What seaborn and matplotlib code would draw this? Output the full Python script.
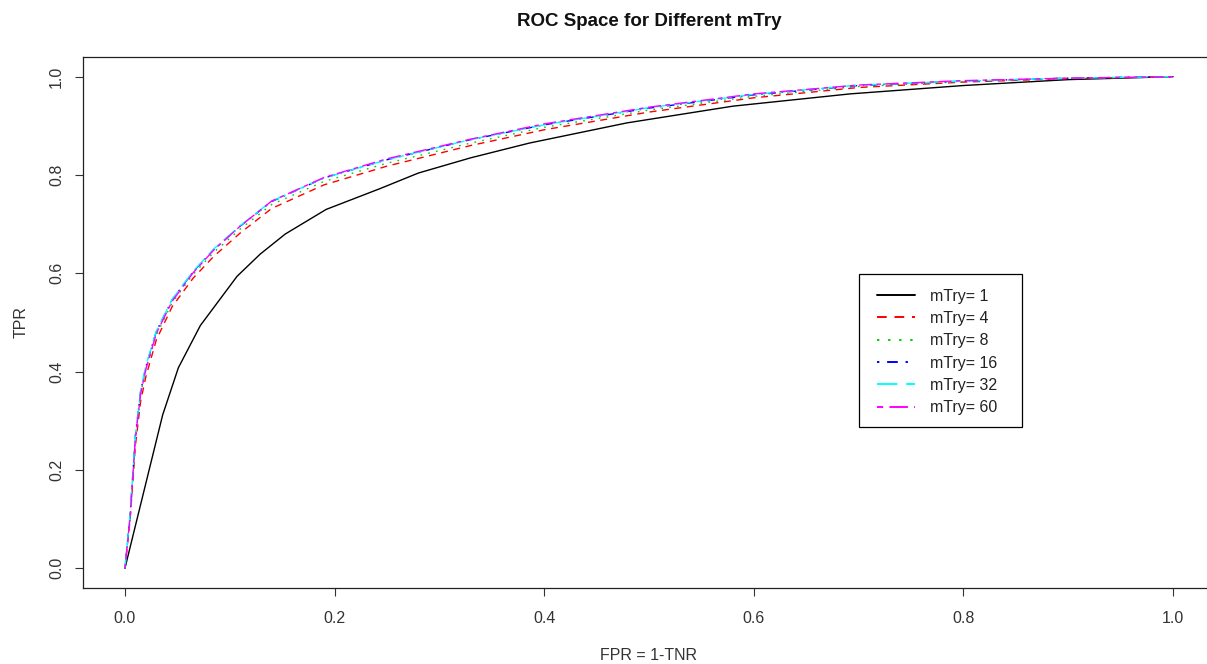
import numpy as np
import pandas as pd
import matplotlib
matplotlib.use("Agg")
import matplotlib.pyplot as plt
from matplotlib.patches import Rectangle
import seaborn as sns

# ---- data ----
fpr_m1 = [0, 0.036, 0.051, 0.072, 0.107, 0.129, 0.153, 0.192, 0.243, 0.28, 0.33,
          0.386, 0.479, 0.58, 0.692, 0.8, 0.9, 1.0]
tpr_m1 = [0, 0.312, 0.408, 0.494, 0.594, 0.639, 0.680, 0.730, 0.772, 0.804, 0.835,
          0.865, 0.906, 0.94, 0.965, 0.982, 0.994, 1.0]

fpr_grid = [0, 0.005, 0.01, 0.015, 0.02, 0.03, 0.045, 0.065, 0.085, 0.11, 0.14,
            0.19, 0.25, 0.33, 0.4, 0.5, 0.6, 0.7, 0.8, 0.9, 1.0]
tpr_m4 = [0, 0.10, 0.25, 0.34, 0.39, 0.465, 0.532, 0.59, 0.635, 0.682, 0.732,
          0.78, 0.818, 0.86, 0.892, 0.928, 0.957, 0.978, 0.989, 0.996, 1.0]
tpr_m8 = [0, 0.105, 0.26, 0.355, 0.405, 0.475, 0.540, 0.598, 0.643, 0.690, 0.740,
          0.787, 0.824, 0.865, 0.897, 0.932, 0.960, 0.980, 0.990, 0.997, 1.0]
tpr_m16 = [0, 0.11, 0.27, 0.36, 0.41, 0.482, 0.546, 0.603, 0.649, 0.696, 0.746,
           0.794, 0.831, 0.872, 0.902, 0.936, 0.963, 0.982, 0.991, 0.997, 1.0]
tpr_m32 = [0, 0.112, 0.272, 0.362, 0.412, 0.483, 0.547, 0.604, 0.650, 0.697, 0.747,
           0.794, 0.831, 0.872, 0.902, 0.937, 0.964, 0.983, 0.991, 0.997, 1.0]
tpr_m60 = [0, 0.105, 0.265, 0.355, 0.405, 0.478, 0.543, 0.601, 0.648, 0.696, 0.747,
           0.795, 0.833, 0.873, 0.904, 0.938, 0.965, 0.983, 0.992, 0.997, 1.0]

labels = ["mTry= 1", "mTry= 4", "mTry= 8", "mTry= 16", "mTry= 32", "mTry= 60"]
colors = ["#000000", "#FF0000", "#00CD00", "#0000FF", "#00FFFF", "#FF00FF"]
# R line types: solid, dashed, dotted, dotdash, longdash, twodash
dashes = [None, (5.0, 4.0), (1.2, 4.5), (1.2, 4.0, 5.5, 4.0), (10.5, 4.5), (3.2, 3.2, 9.5, 3.2)]

series = [(fpr_m1, tpr_m1), (fpr_grid, tpr_m4), (fpr_grid, tpr_m8),
          (fpr_grid, tpr_m16), (fpr_grid, tpr_m32), (fpr_grid, tpr_m60)]

sns.set_theme(style="ticks")
plt.rcParams['font.family'] = ['Liberation Sans', 'DejaVu Sans']

W, H = 1207, 664
fig = plt.figure(figsize=(W / 100, H / 100), dpi=100)
ax_l, ax_r, ax_t, ax_b = 83, 1215, 57, 588
ax = fig.add_axes([ax_l / W, 1 - ax_b / H, (ax_r - ax_l) / W, (ax_b - ax_t) / H])

for (xs, ys), lab, col, ds in zip(series, labels, colors, dashes):
    df = pd.DataFrame({"FPR": xs, "TPR": ys})
    sns.lineplot(data=df, x="FPR", y="TPR", ax=ax, color=col, label=lab,
                 sort=False, estimator=None, linewidth=1.0)
    line = ax.lines[-1]
    if ds is not None:
        line.set_dashes(ds)

ax.set_xlim(-0.04, 1.04)
ax.set_ylim(-0.04, 1.04)
ax.set_xticks([0, 0.2, 0.4, 0.6, 0.8, 1.0])
ax.set_yticks([0, 0.2, 0.4, 0.6, 0.8, 1.0])
ax.set_xticklabels(["0.0", "0.2", "0.4", "0.6", "0.8", "1.0"])
ax.set_yticklabels(["0.0", "0.2", "0.4", "0.6", "0.8", "1.0"], rotation=90, va="center")
ax.tick_params(axis="both", direction="out", length=5.5, width=0.8, color="#333333",
               labelsize=11.5, labelcolor="#333333")
ax.tick_params(axis="x", pad=11)
ax.tick_params(axis="y", pad=8)
for sp in ax.spines.values():
    sp.set_visible(True)
    sp.set_color("#222222")
    sp.set_linewidth(0.9)

ax.set_xlabel("FPR = 1-TNR", fontsize=11.5, color="#333333", labelpad=16)
ax.set_ylabel("TPR", fontsize=11.5, color="#333333", labelpad=15)
fig.text(649 / W, 1 - 21.5 / H, "ROC Space for Different mTry", ha="center", va="center",
         fontsize=13.5, fontweight="bold", color="#111111")

# legend (R-style box drawn separately)
aw, ah = ax_r - ax_l, ax_b - ax_t
leg = ax.legend(loc="upper left", bbox_to_anchor=((859 - ax_l) / aw, (ax_b - 271) / ah),
                frameon=False, fontsize=11.5,
                handlelength=2.4, handletextpad=0.95, labelspacing=0.46,
                borderpad=1.1, borderaxespad=0)
for t in leg.get_texts():
    t.set_color("#222222")
for lh in leg.get_lines():
    lh.set_linewidth(1.4)
box = Rectangle(((859 - ax_l) / aw, (ax_b - 427) / ah), (1022 - 859) / aw, (427 - 274) / ah,
                transform=ax.transAxes, facecolor="white", edgecolor="black",
                linewidth=0.9, zorder=4)
ax.add_patch(box)
leg.set_zorder(5)

fig.savefig("out.png", dpi=100, facecolor="white")
